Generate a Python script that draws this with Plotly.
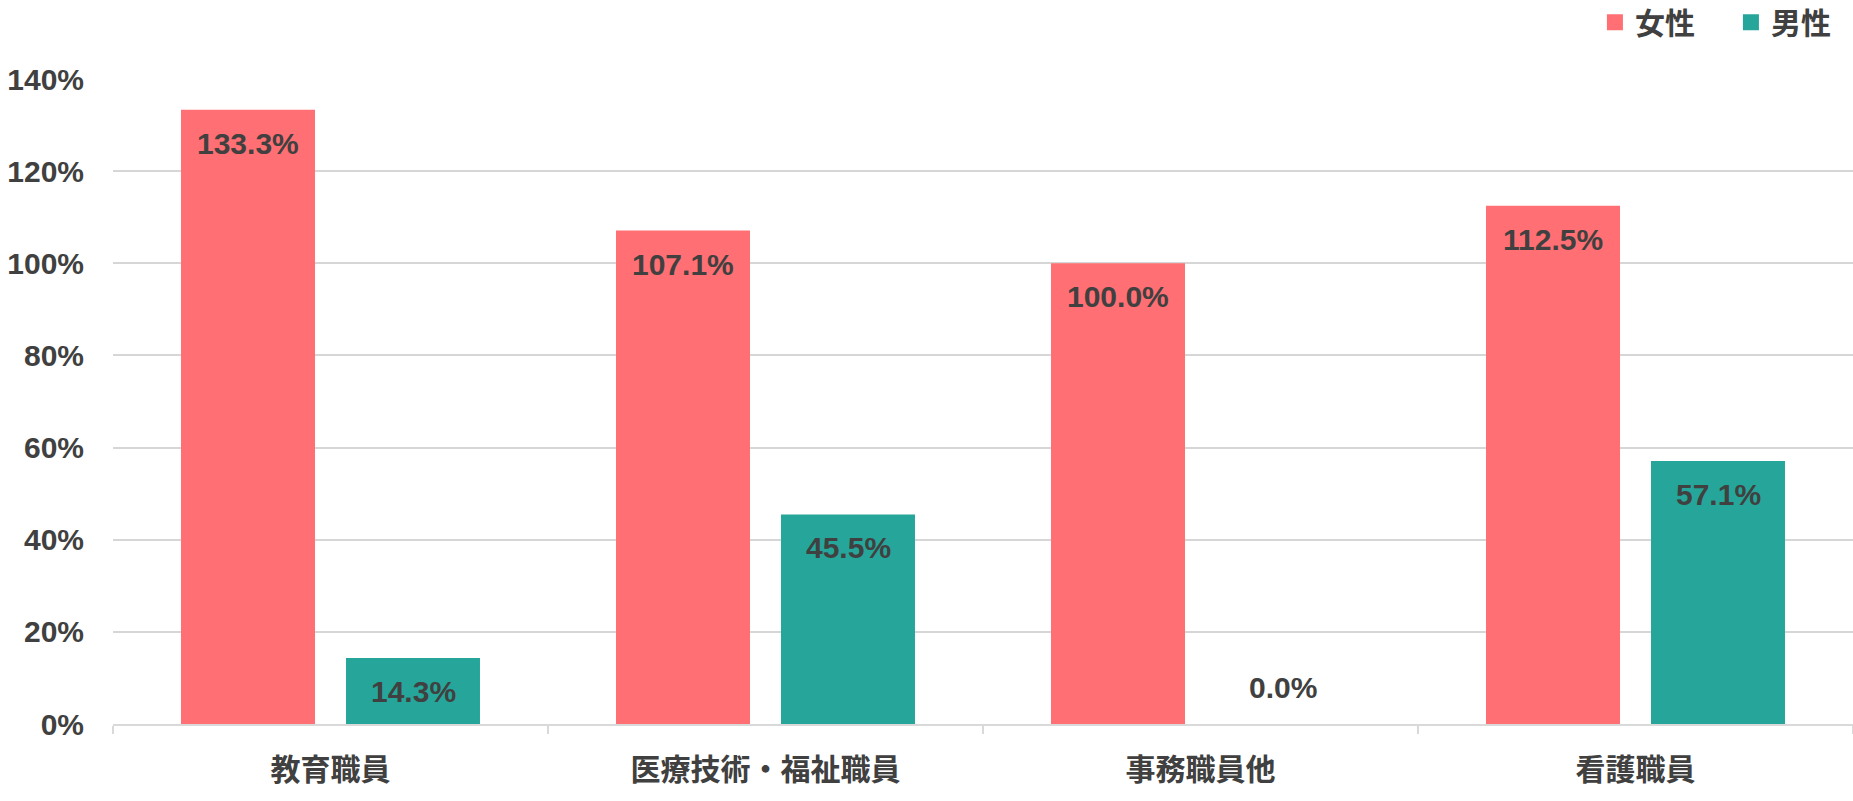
import plotly.graph_objects as go

categories = ["教育職員", "医療技術・福祉職員", "事務職員他", "看護職員"]
female = [133.3, 107.1, 100.0, 112.5]
male = [14.3, 45.5, 0.0, 57.1]
series_names = ["女性", "男性"]
colors = ["#FF6F73", "#26A69A"]
y_ticks = [0, 20, 40, 60, 80, 100, 120, 140]

TEXT = "#404040"
FONT = "Liberation Sans, Noto Sans CJK JP, sans-serif"
CJK = "Noto Sans CJK JP, sans-serif"
BARGAP = 0.2414
GROUPGAP = 0.188

fig = go.Figure()
for name, vals, col in zip(series_names, [female, male], colors):
    fig.add_trace(go.Bar(x=categories, y=vals, name=name, showlegend=False,
                         marker=dict(color=col, line=dict(width=0))))
    # legend entry with a larger square swatch
    fig.add_trace(go.Scatter(x=[None], y=[None], mode="markers", name=name,
                             marker=dict(symbol="square", size=17, color=col)))

# data labels (inside end) positioned through axis coordinates
off = (1 - BARGAP) / 4
for s, vals in enumerate([female, male]):
    for i, v in enumerate(vals):
        xpos = i - off if s == 0 else i + off
        if v == 0:
            fig.add_annotation(x=xpos, y=v, xref="x", yref="y", text=f"{v:.1f}%", showarrow=False,
                               yanchor="bottom", yshift=18,
                               font=dict(family=FONT, size=30, color=TEXT, weight="bold"))
        else:
            fig.add_annotation(x=xpos, y=v, xref="x", yref="y", text=f"{v:.1f}%", showarrow=False,
                               yanchor="top", yshift=-15,
                               font=dict(family=FONT, size=30, color=TEXT, weight="bold"))

fig.update_layout(
    width=1853, height=801,
    margin=dict(l=113, r=0, t=79, b=77, autoexpand=False),
    plot_bgcolor="white", paper_bgcolor="white",
    barmode="group", bargap=BARGAP, bargroupgap=GROUPGAP,
    font=dict(family=FONT, color=TEXT),
    legend=dict(orientation="h", x=1.008, xanchor="right", y=1.088, yanchor="middle",
                font=dict(family=CJK, size=30, color=TEXT, weight="bold"),
                itemsizing="trace", itemwidth=30, entrywidth=91, entrywidthmode="pixels",
                tracegroupgap=0, bgcolor="rgba(0,0,0,0)"),
    xaxis=dict(type="category", showline=True, linecolor="#d9d9d9", linewidth=2,
               ticks="outside", tickson="boundaries", ticklen=8, tickcolor="#d9d9d9", tickwidth=2,
               ticklabelstandoff=18,
               tickfont=dict(family=CJK, size=30, color=TEXT, weight="bold"),
               showgrid=False, zeroline=False),
    yaxis=dict(range=[0, 140], tickvals=y_ticks, ticktext=[f"{t}%" for t in y_ticks],
               showgrid=True, gridcolor="#d6d6d6", gridwidth=2, zeroline=False, showline=False,
               ticklabelstandoff=28,
               tickfont=dict(family=FONT, size=30, color=TEXT, weight="bold")),
)

fig.write_html("out.html", config={"displayModeBar": False},
               post_script="document.body.style.margin='0';")
